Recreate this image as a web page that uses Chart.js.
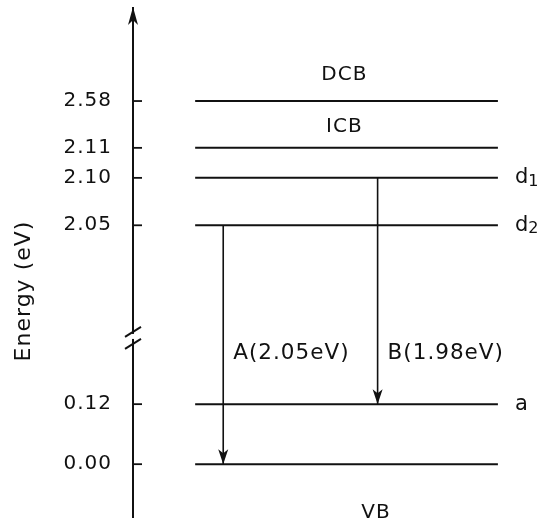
<!DOCTYPE html>
<html>
<head>
<meta charset="utf-8">
<script src="https://cdn.jsdelivr.net/npm/chart.js@4.4.1/dist/chart.umd.min.js"></script>
<style>
  html, body { margin: 0; background: #fff; }
  #wrap { position: relative; width: 544px; height: 524px; }
</style>
</head>
<body>
<div id="wrap"><canvas id="levels"></canvas></div>
<script>
// energy levels, top to bottom
const levelNames = ["DCB", "ICB", "d1", "d2", "a", "VB"];
const levelEnergies = [2.58, 2.11, 2.10, 2.05, 0.12, 0.00];
// schematic height of each level in the drawing (axis is broken, not to scale)
const levelHeights = [6.05, 5.27, 4.77, 3.98, 1.0, 0];

// radiative transitions
const transitionNames = ["A(2.05eV)", "B(1.98eV)"];
const transitionFrom = ["d2", "d1"];
const transitionTo = ["VB", "a"];

const FONT = "'DejaVu Sans', sans-serif";
const INK = "#111";

// layout in x-scale units (0..10)
const lineStart = 1.55;
const lineEnd = 9.1;
const arrowX = [2.25, 6.1];
const transitionLabelY = 1.84;
const breakAt = 2.12;

const heightOf = (name) => levelHeights[levelNames.indexOf(name)];

const levelSets = levelNames.map((name, i) => ({
  label: name,
  data: [{ x: lineStart, y: levelHeights[i] }, { x: lineEnd, y: levelHeights[i] }],
  showLine: true,
  borderColor: INK,
  borderWidth: 2,
  pointRadius: 0
}));

const arrowSets = transitionNames.map((name, i) => ({
  label: name,
  data: [
    { x: arrowX[i], y: heightOf(transitionFrom[i]) },
    { x: arrowX[i], y: heightOf(transitionTo[i]) }
  ],
  showLine: true,
  borderColor: INK,
  borderWidth: 1.6,
  pointRadius: 0
}));

const text = (ctx, str, x, y, size, align, baseline) => {
  ctx.font = `${size}px ${FONT}`;
  ctx.textAlign = align;
  ctx.textBaseline = baseline;
  ctx.fillText(str, x, y);
};

const diagram = {
  id: "diagram",
  beforeDraw(chart) {
    chart.ctx.letterSpacing = "1px";
  },
  afterDatasetsDraw(chart) {
    const { ctx, chartArea } = chart;
    const sx = chart.scales.x;
    const sy = chart.scales.y;
    const ax = chartArea.left;

    ctx.save();
    ctx.letterSpacing = "1px";
    ctx.fillStyle = INK;
    ctx.strokeStyle = INK;

    // tick marks on the inside of the axis
    ctx.lineWidth = 1.8;
    levelHeights.forEach((h) => {
      const y = sy.getPixelForValue(h);
      ctx.beginPath();
      ctx.moveTo(ax, y);
      ctx.lineTo(ax + 9, y);
      ctx.stroke();
    });

    // arrow on top of the axis
    const top = chartArea.top;
    ctx.beginPath();
    ctx.moveTo(ax, top - 1);
    ctx.lineTo(ax - 5, top + 17);
    ctx.lineTo(ax, top + 12);
    ctx.lineTo(ax + 5, top + 17);
    ctx.closePath();
    ctx.fill();

    // axis break
    const by = sy.getPixelForValue(breakAt);
    ctx.fillStyle = "#fff";
    ctx.fillRect(ax - 3, by - 3, 6, 5);
    ctx.fillStyle = INK;
    ctx.lineWidth = 2;
    [[-2, 8], [10, 20]].forEach(([a, b]) => {
      ctx.beginPath();
      ctx.moveTo(ax - 8, by + b - 8);
      ctx.lineTo(ax + 8, by + a - 8);
      ctx.stroke();
    });

    // axis title
    ctx.save();
    ctx.translate(24, 291);
    ctx.rotate(-Math.PI / 2);
    text(ctx, "Energy (eV)", 0, 0, 22, "center", "middle");
    ctx.restore();

    // level labels
    levelNames.forEach((name, i) => {
      const y = sy.getPixelForValue(levelHeights[i]);
      if (name === "DCB") text(ctx, name, sx.getPixelForValue(5.27), y - 26, 20, "center", "middle");
      else if (name === "ICB") text(ctx, name, sx.getPixelForValue(5.27), y - 21, 20, "center", "middle");
      else if (name === "VB") text(ctx, name, sx.getPixelForValue(6.06), y + 49, 20, "center", "middle");
      else {
        const x = sx.getPixelForValue(lineEnd) + 17;
        text(ctx, name[0], x, y, 21, "left", "middle");
        if (name.length > 1) {
          const w = ctx.measureText(name[0]).width;
          text(ctx, name.slice(1), x + w - 1, y + 4, 16, "left", "middle");
        }
      }
    });

    // arrow heads and transition labels
    arrowSets.forEach((ds, i) => {
      const meta = chart.getDatasetMeta(levelSets.length + i);
      const tip = meta.data[1];
      ctx.beginPath();
      ctx.moveTo(tip.x, tip.y);
      ctx.lineTo(tip.x - 5, tip.y - 15);
      ctx.lineTo(tip.x, tip.y - 11);
      ctx.lineTo(tip.x + 5, tip.y - 15);
      ctx.closePath();
      ctx.fill();
      text(ctx, transitionNames[i], tip.x + 10, sy.getPixelForValue(transitionLabelY), 21.5, "left", "middle");
    });

    ctx.restore();
  },
  afterDraw(chart) {
    chart.ctx.letterSpacing = "0px";
  }
};

new Chart(document.getElementById("levels"), {
  type: "scatter",
  data: { datasets: [...levelSets, ...arrowSets] },
  plugins: [diagram],
  options: {
    responsive: true,
    maintainAspectRatio: false,
    animation: false,
    events: [],
    layout: { padding: { top: 8, right: 10, bottom: 7, left: 0 } },
    plugins: {
      legend: { display: false },
      tooltip: { enabled: false }
    },
    scales: {
      x: { type: "linear", min: 0, max: 10, display: false },
      y: {
        type: "linear",
        min: -0.88,
        max: 7.6,
        afterBuildTicks: (scale) => {
          scale.ticks = [...levelHeights].sort((a, b) => a - b).map((v) => ({ value: v }));
        },
        afterFit: (scale) => {
          scale.width = 133;
          scale.paddingTop = 0;
          scale.paddingBottom = 0;
        },
        grid: { drawOnChartArea: false, drawTicks: false },
        border: { display: true, color: INK, width: 2 },
        ticks: {
          autoSkip: false,
          padding: 21,
          color: INK,
          font: { family: FONT, size: 20 },
          callback: (v) => levelEnergies[levelHeights.indexOf(v)].toFixed(2)
        }
      }
    }
  }
});
</script>
</body>
</html>
